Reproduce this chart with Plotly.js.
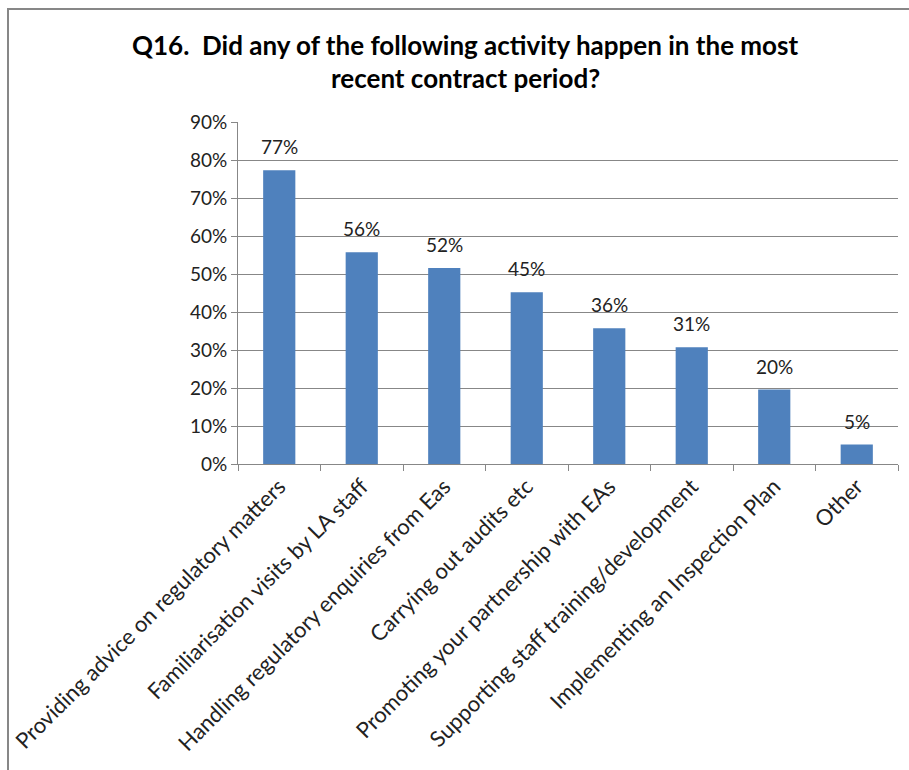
<!DOCTYPE html>
<html>
<head>
<meta charset="utf-8">
<script src="https://cdn.plot.ly/plotly-3.0.1.min.js"></script>
<style>
  html, body { margin: 0; padding: 0; background: #fff; }
  #wrap { position: relative; width: 909px; height: 770px; }
  #chart { width: 909px; height: 770px; }
  #frame { position: absolute; left: 7px; top: 8px; right: 0; bottom: 0;
           border-top: 2px solid #878787; border-left: 2px solid #878787;
           pointer-events: none; }
</style>
</head>
<body>
<div id="wrap">
  <div id="chart"></div>
  <div id="frame"></div>
</div>
<script>
const categories = [
  "Providing advice on regulatory matters",
  "Familiarisation visits by LA staff",
  "Handling regulatory enquiries from Eas",
  "Carrying out audits etc",
  "Promoting your partnership with EAs",
  "Supporting staff training/development",
  "Implementing an Inspection Plan",
  "Other"
];
const values = [0.773, 0.557, 0.516, 0.452, 0.357, 0.307, 0.196, 0.051];
const labels = ["77%", "56%", "52%", "45%", "36%", "31%", "20%", "5%"];
const titleLines = [
  "Q16.  Did any of the following activity happen in the most",
  "recent contract period?"
];

const FONT = "Lato, 'Open Sans', sans-serif";

const trace = {
  type: "bar",
  x: categories,
  y: values,
  marker: { color: "#4F81BD", line: { width: 0 } },
  hoverinfo: "skip"
};

const annotations = categories.map((c, i) => ({
  x: c, y: values[i], xref: "x", yref: "y",
  text: labels[i], showarrow: false,
  yanchor: "bottom", yshift: 10,
  font: { family: FONT, size: 19, color: "#222" }
}));

// title lines (centers at ~45px and ~78px from top)
const titleY = [1.225, 1.129];
titleLines.forEach((t, i) => annotations.push({
  x: 0.344, xref: "paper", xanchor: "center",
  y: titleY[i], yref: "paper", yanchor: "middle",
  text: "<b>" + t + "</b>", showarrow: false,
  font: { family: FONT, size: 26, color: "#000" }
}));

const layout = {
  width: 909, height: 770,
  margin: { l: 238, r: 11, t: 122, b: 306 },
  paper_bgcolor: "#fff", plot_bgcolor: "#fff",
  bargap: 0.61,
  showlegend: false,
  xaxis: {
    type: "category",
    tickangle: -45,
    ticks: "outside", tickson: "boundaries", ticklen: 6, tickcolor: "#878787",
    showline: true, linecolor: "#878787", linewidth: 1,
    showgrid: false,
    tickfont: { family: FONT, size: 22, color: "#222" },
    fixedrange: true
  },
  yaxis: {
    range: [0, 0.9],
    dtick: 0.1, tickformat: ".0%",
    ticks: "outside", ticklen: 6, tickcolor: "#878787",
    showline: true, linecolor: "#878787", linewidth: 1,
    showgrid: true, gridcolor: "#878787", gridwidth: 1,
    zeroline: false,
    tickfont: { family: FONT, size: 19, color: "#222" },
    fixedrange: true
  },
  annotations: annotations
};

Plotly.newPlot("chart", [trace], layout, { displayModeBar: false, staticPlot: true });
</script>
</body>
</html>
